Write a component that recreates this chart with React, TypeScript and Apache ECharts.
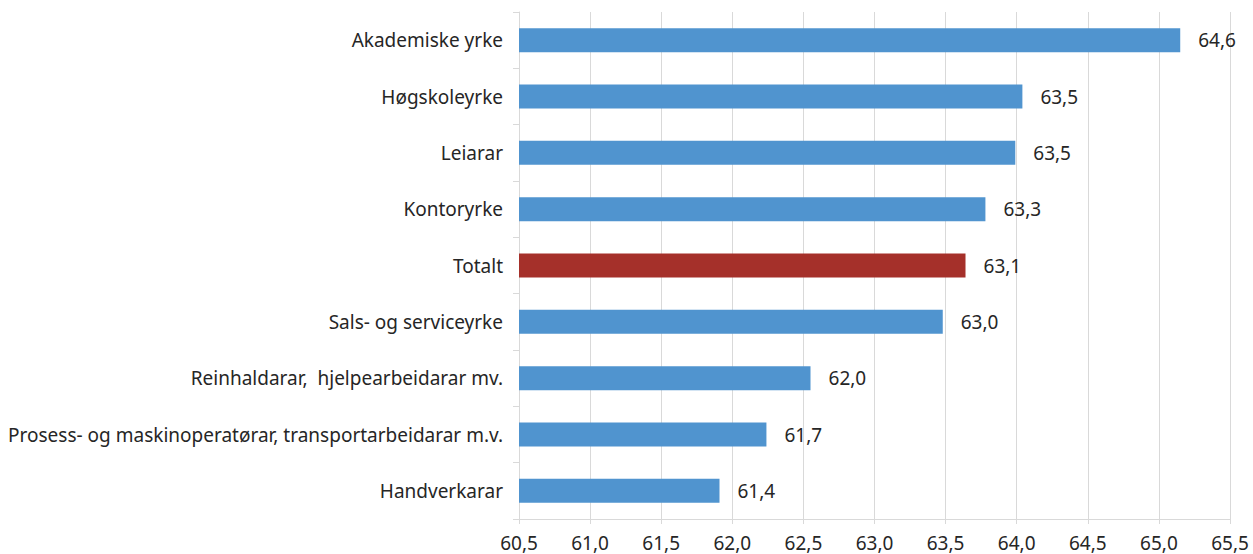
import React, { useEffect, useRef } from "react";
import * as echarts from "echarts";

const categories = [
  "Akademiske yrke",
  "Høgskoleyrke",
  "Leiarar",
  "Kontoryrke",
  "Totalt",
  "Sals- og serviceyrke",
  "Reinhaldarar,  hjelpearbeidarar mv.",
  "Prosess- og maskinoperatørar, transportarbeidarar m.v.",
  "Handverkarar",
];
// bar lengths as drawn in the reference (on its axis)
const barValues = [65.15, 64.04, 63.99, 63.78, 63.64, 63.48, 62.55, 62.24, 61.91];
// value labels printed next to the bars
const valueLabels = ["64,6", "63,5", "63,5", "63,3", "63,1", "63,0", "62,0", "61,7", "61,4"];
const highlight = "Totalt";

const BLUE = "#5094cf";
const RED = "#a5302a";
const GRID = "#d9d9d9";
const TEXT = "#262626";
const FONT = "Noto Sans";
const FS = 19;

export default function App() {
  const ref = useRef<HTMLDivElement>(null);
  useEffect(() => {
    if (!ref.current) return;
    const chart = echarts.init(ref.current, null, { renderer: "svg" });
    chart.setOption({
      animation: false,
      textStyle: { fontFamily: FONT },
      grid: { left: 519, right: 23, top: 12, bottom: 35, containLabel: false },
      xAxis: {
        type: "value",
        min: 60.5,
        max: 65.5,
        interval: 0.5,
        axisLine: { show: true, lineStyle: { color: GRID, width: 1 } },
        axisTick: { show: true, length: 5, lineStyle: { color: GRID } },
        splitLine: { show: true, lineStyle: { color: GRID, width: 1 } },
        axisLabel: {
          color: TEXT,
          fontSize: FS,
          fontFamily: FONT,
          margin: 14,
          formatter: (v: number) => v.toFixed(1).replace(".", ","),
        },
      },
      yAxis: {
        type: "category",
        inverse: true,
        data: categories,
        axisLine: { show: true, lineStyle: { color: GRID, width: 1 } },
        axisTick: { show: true, length: 6, lineStyle: { color: GRID } },
        splitLine: { show: false },
        axisLabel: { color: TEXT, fontSize: FS, fontFamily: FONT, margin: 16 },
      },
      series: [
        {
          type: "bar",
          barWidth: 24,
          data: barValues.map((v, i) => ({
            value: v,
            itemStyle: { color: categories[i] === highlight ? RED : BLUE },
          })),
          label: {
            show: true,
            position: "right",
            distance: 18,
            color: TEXT,
            fontSize: FS,
            fontFamily: FONT,
            formatter: (p: any) => valueLabels[p.dataIndex],
          },
        },
      ],
    });
    return () => chart.dispose();
  }, []);
  return (
    <div
      ref={ref}
      style={{ position: "fixed", left: 0, top: 0, width: 1253, height: 554, background: "#fff" }}
    />
  );
}
